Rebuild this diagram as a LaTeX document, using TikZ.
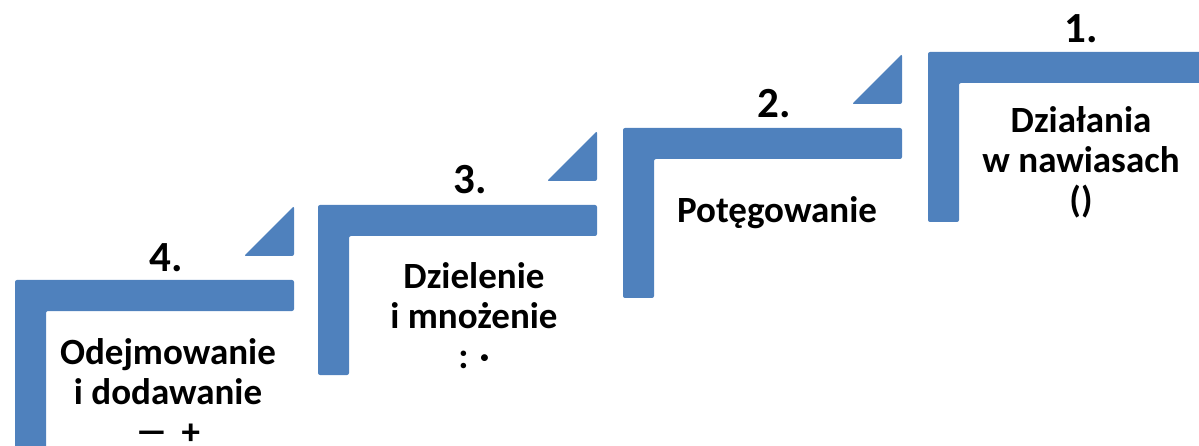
\documentclass[tikz,border=0pt]{standalone}
\usepackage{graphicx}
\usepackage{fontspec}
\setmainfont{Carlito}
\definecolor{stepblue}{HTML}{4F81BD}
\tikzset{
  stair/.style={fill=stepblue, draw=none, rounded corners=2pt},
  numlabel/.style={font=\bfseries\fontsize{43}{43}\selectfont, anchor=base, inner sep=0pt},
  steplabel/.style={font=\bfseries\fontsize{37}{40}\selectfont, align=center, anchor=base, inner sep=0pt},
}
% one stair: L-shaped bracket plus the small wedge in front of it
\newcommand{\stairstep}[3][1]{%
  \begin{scope}[shift={(#2,#3)}]
    \fill[stair] (0,0) -- (279,0) -- (279,31) -- (31,31) -- (31,170) -- (0,170) -- cycle;
    \ifnum#1=1
      \fill[stair] (229,-24) -- (279,-74) -- (279,-24) -- cycle;
    \fi
  \end{scope}}
% a wider minus sign
\newcommand{\wideminus}{\scalebox{1.7}[1]{−}}
\begin{document}
\begin{tikzpicture}[x=1pt,y=-1pt]
  \useasboundingbox (0,0) rectangle (1199,446);
  \clip (0,0) rectangle (1199,446);
  \stairstep{15}{280}
  \stairstep{318}{205}
  \stairstep{623}{128}
  \stairstep[0]{928}{52}

  \node[numlabel] (n4) at (166,272) {4.};
  \node[numlabel] (n3) at (470,194) {3.};
  \node[numlabel] (n2) at (774,118) {2.};
  \node[numlabel] (n1) at (1081,43) {1.};

  % multi-line labels are anchored at the baseline of their last line
  \node[steplabel] (s4) at (168,444) {Odejmowanie\\i dodawanie\\\wideminus{} \,+};
  \node[steplabel] (s3) at (474,368) {Dzielenie\\i mnożenie\\: ·};
  \node[steplabel] (s2) at (777,223) {Potęgowanie};
  \node[steplabel] (s1) at (1081,213) {Działania\\w nawiasach\\()};
\end{tikzpicture}
\end{document}
